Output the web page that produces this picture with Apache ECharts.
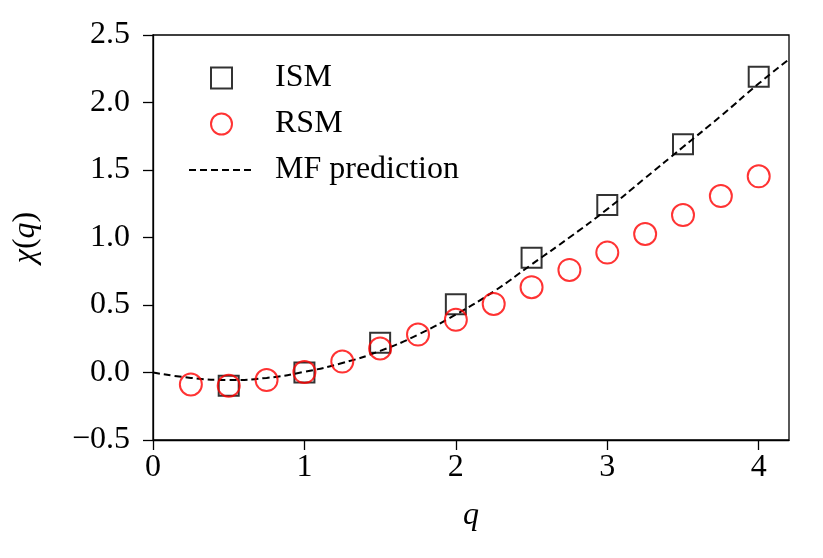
<!DOCTYPE html>
<html><head><meta charset="utf-8">
<script src="https://cdn.jsdelivr.net/npm/echarts@6/dist/echarts.min.js"></script>
<style>html,body{margin:0;padding:0;background:#fff}#c{width:823px;height:558px}</style>
</head><body><div id="c"></div>
<script>
var ismQ = [0.5, 1.0, 1.5, 2.0, 2.5, 3.0, 3.5, 4.0];
var ismChi = [-0.098, 0.0, 0.22, 0.505, 0.85, 1.24, 1.69, 2.19];
var rsmQ = [0.25, 0.5, 0.75, 1.0, 1.25, 1.5, 1.75, 2.0, 2.25, 2.5, 2.75, 3.0, 3.25, 3.5, 3.75, 4.0];
var rsmChi = [-0.089, -0.098, -0.056, 0.003, 0.081, 0.178, 0.281, 0.39, 0.508, 0.632, 0.76, 0.888, 1.026, 1.166, 1.307, 1.453];
var mfQ = [0, 0.25, 0.5, 0.75, 1.0, 1.25, 1.5, 1.75, 2.0, 2.25, 2.5, 2.75, 3.0, 3.25, 3.5, 3.75, 4.0, 4.2];
var mfChi = [0, -0.04, -0.055, -0.04, 0.005, 0.07, 0.16, 0.28, 0.43, 0.6, 0.8, 1.0, 1.21, 1.44, 1.67, 1.9, 2.14, 2.32];
var xTicks = [0, 1, 2, 3, 4];
var yTicks = [-0.5, 0.0, 0.5, 1.0, 1.5, 2.0, 2.5];

function zip(a, b) { return a.map(function (v, i) { return [v, b[i]]; }); }
var FONT = 'Liberation Serif';
var FS = 32;
var chart = echarts.init(document.getElementById('c'));
chart.setOption({
  animation: false,
  backgroundColor: '#fff',
  grid: { left: 153, right: 34, top: 35, bottom: 118, show: true, borderColor: '#000', borderWidth: 1.3, backgroundColor: 'transparent' },
  legend: {
    orient: 'vertical', left: 183, top: 57,
    itemWidth: 65, itemHeight: 21, itemGap: 14,
    textStyle: { fontFamily: FONT, fontSize: FS, color: '#000', padding: [0, 0, 0, 16], lineHeight: 32 },
    data: [
      { name: 'ISM', icon: 'path://M0,0L10,0L10,10L0,10Z' },
      { name: 'RSM', icon: 'circle' },
      { name: 'MF prediction' }
    ]
  },
  xAxis: {
    type: 'value', min: 0, max: 4.2,
    name: 'q', nameLocation: 'middle', nameGap: 60,
    nameTextStyle: { fontFamily: FONT, fontSize: FS, fontStyle: 'italic', color: '#000' },
    axisLine: { show: true, onZero: false, lineStyle: { color: '#000', width: 1.3 } },
    axisTick: { show: true, length: 10, lineStyle: { color: '#000', width: 1.3 }, customValues: xTicks },
    axisLabel: { fontFamily: FONT, fontSize: FS, color: '#000', margin: 12, customValues: xTicks },
    splitLine: { show: false }
  },
  yAxis: {
    type: 'value', min: -0.5, max: 2.5, interval: 0.5,
    name: '{i|χ}({i|q})', nameLocation: 'middle', nameGap: 111, nameRotate: 90,
    nameTextStyle: { fontFamily: FONT, fontSize: FS, color: '#000',
      rich: { i: { fontFamily: FONT, fontSize: FS, fontStyle: 'italic', color: '#000' } } },
    axisLine: { show: true, onZero: false, lineStyle: { color: '#000', width: 1.3 } },
    axisTick: { show: true, length: 10, lineStyle: { color: '#000', width: 1.3 }, customValues: yTicks },
    axisLabel: { fontFamily: FONT, fontSize: FS, color: '#000', margin: 23, customValues: yTicks,
      formatter: function (v) { return v.toFixed(1).replace('-', '\u2212'); } },
    splitLine: { show: false }
  },
  series: [
    { name: 'MF prediction', type: 'line', data: zip(mfQ, mfChi), smooth: true, symbol: 'none', z: 3,
      lineStyle: { color: '#000', width: 2, type: [7, 4] }, itemStyle: { color: 'rgba(0,0,0,0)' } },
    { name: 'ISM', type: 'scatter', data: zip(ismQ, ismChi), symbol: 'rect', symbolSize: 20, z: 2,
      itemStyle: { color: 'rgba(0,0,0,0)', borderColor: '#000', borderWidth: 2 } },
    { name: 'RSM', type: 'scatter', data: zip(rsmQ, rsmChi), symbol: 'circle', symbolSize: 22, z: 4,
      itemStyle: { color: 'rgba(0,0,0,0)', borderColor: '#ff0000', borderWidth: 2 } }
  ]
});
</script></body></html>
